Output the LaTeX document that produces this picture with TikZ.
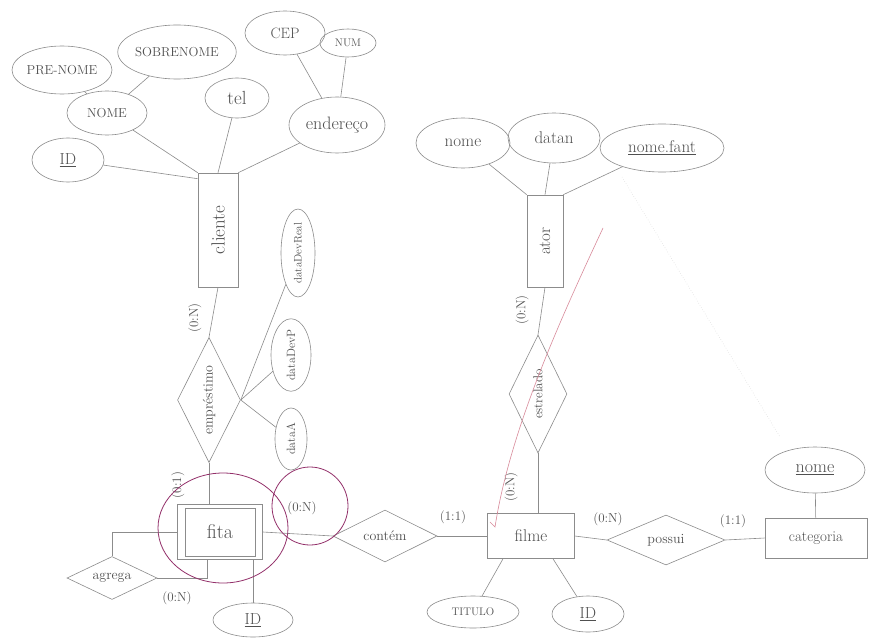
\documentclass[tikz,border=0pt]{standalone}
\usetikzlibrary{shapes.geometric}
\definecolor{pencil}{HTML}{8C8C8C}
\definecolor{ink}{HTML}{505050}
\definecolor{plum}{HTML}{93306A}
\definecolor{rosy}{HTML}{D88A9A}
\tikzset{
  link/.style={draw=pencil, line width=0.6pt},
  attr/.style={ellipse, draw=pencil, line width=0.6pt, inner sep=0pt, text=ink, font=\fontsize{13}{15}\selectfont},
  ent/.style={rectangle, draw=pencil, line width=0.6pt, inner sep=0pt, text=ink, font=\fontsize{17}{19}\selectfont},
  rel/.style={diamond, draw=pencil, line width=0.6pt, inner sep=0pt, aspect=2, text=ink, font=\fontsize{14}{16}\selectfont},
  vrel/.style={rel, aspect=0.5},
  card/.style={text=ink, inner sep=1pt, font=\fontsize{13}{15}\selectfont},
  ringmark/.style={draw=plum, line width=0.8pt},
}
\begin{document}
\begin{tikzpicture}[x=1pt, y=-1pt]
\useasboundingbox[fill=white] (0,0) rectangle (869,639);

% ---- cliente and its attributes
\node[attr, minimum width=100, minimum height=48] (pren) at (62,70) {PRE-NOME};
\node[attr, minimum width=116, minimum height=54] (sobr) at (177,52) {SOBRENOME};
\node[attr, minimum width=80, minimum height=44] (nome) at (107,113) {NOME};
\node[attr, minimum width=64, minimum height=40, font=\fontsize{19}{21}\selectfont] (tel) at (237,98) {tel};
\node[attr, minimum width=80, minimum height=44, font=\fontsize{15}{17}\selectfont] (cep) at (285,33) {CEP};
\node[attr, minimum width=56, minimum height=28, font=\fontsize{11}{13}\selectfont] (num) at (348,43) {NUM};
\node[attr, minimum width=96, minimum height=56, font=\fontsize{18}{20}\selectfont] (end) at (337,125) {endereço};
\node[attr, minimum width=72, minimum height=44, font=\fontsize{16}{18}\selectfont] (id1) at (68,160) {\underline{ID}};
\node[ent, minimum width=40, minimum height=114, font=\fontsize{19}{21}\selectfont] (cli) at (218,230) {\rotatebox{90}{cliente}};

\draw[link] (pren) -- (nome);
\draw[link] (sobr) -- (nome);
\draw[link] (nome) -- (cli.north west);
\draw[link] (tel) -- (cli.north);
\draw[link] (end) -- (cli.north east);
\draw[link] (cep) -- (end);
\draw[link] (num) -- (end);
\draw[link] (id1) -- ([yshift=-6pt]cli.north west);

% ---- emprestimo
\node[vrel, minimum width=63, minimum height=125] (emp) at (209,400) {\rotatebox{90}{empréstimo}};
\node[attr, minimum width=34, minimum height=88, font=\fontsize{11}{13}\selectfont] (ddr) at (298,253) {\rotatebox{90}{dataDevReal}};
\node[attr, minimum width=40, minimum height=70, font=\fontsize{12}{14}\selectfont] (ddp) at (291,355) {\rotatebox{90}{dataDevP}};
\node[attr, minimum width=32, minimum height=62, font=\fontsize{12}{14}\selectfont] (dta) at (291,439) {\rotatebox{90}{dataA}};
\draw[link] (cli.south) -- (emp.north);
\draw[link] (emp.east) -- (ddr);
\draw[link] (emp.east) -- (ddp);
\draw[link] (emp.east) -- (dta);
\node[card, rotate=90] (c1) at (195,318) {(0:N)};
\node[card, rotate=90] (c2) at (178,485) {(0:1)};

% ---- fita (weak entity)
\node[ent, minimum width=85, minimum height=55, font=\fontsize{20}{22}\selectfont] (fita) at (220,532) {fita};
\draw[link] ([shift={(8pt,4pt)}]fita.south west) rectangle ([shift={(-8pt,-4pt)}]fita.north east);
\draw[link] (emp.south) -- (emp.south |- fita.north);
\node[rel, minimum width=90, minimum height=43] (agr) at (112,578) {agrega};
\draw[link] (fita.west) -| (agr.north);
\draw[link] (agr.east) -| ([xshift=-13pt]fita.south);
\node[card] (c3) at (177,598) {(0:N)};
\node[attr, minimum width=80, minimum height=34, font=\fontsize{16}{18}\selectfont] (id2) at (253,620) {\underline{ID}};
\draw[link] (id2.north |- fita.south) -- (id2.north);

% ---- contem
\node[rel, minimum width=104, minimum height=52] (cont) at (385,536) {contém};
\draw[link] (fita.east) -- (cont.west);
\node[card] (c4) at (302,508) {(0:N)};
\node[card] (c5) at (453,517) {(1:1)};

% ---- filme
\node[ent, minimum width=87, minimum height=45] (filme) at (531,536) {filme};
\draw[link] (cont.east) -- (filme.west);
\node[attr, minimum width=92, minimum height=32, font=\fontsize{11}{13}\selectfont] (tit) at (473,612) {TITULO};
\node[attr, minimum width=72, minimum height=36, font=\fontsize{16}{18}\selectfont] (id3) at (588,614) {\underline{ID}};
\draw[link] ([xshift=-28pt]filme.south) -- (tit);
\draw[link] ([xshift=22pt]filme.south) -- (id3);

% ---- possui / categoria
\node[rel, minimum width=118, minimum height=50] (poss) at (666,540) {possui};
\node[ent, minimum width=102, minimum height=40, font=\fontsize{15}{17}\selectfont] (cat) at (816,538) {categoria};
\node[attr, minimum width=100, minimum height=46, font=\fontsize{18}{20}\selectfont] (nomec) at (815,470) {\underline{nome}};
\draw[link] (filme.east) -- (poss.west);
\draw[link] (poss.east) -- (cat.west);
\draw[link] (nomec) -- (cat);
\node[card] (c6) at (608,519) {(0:N)};
\node[card] (c7) at (733,521) {(1:1)};

% ---- ator / estrelado
\node[ent, minimum width=36, minimum height=92] (ator) at (545,241) {\rotatebox{90}{ator}};
\node[attr, minimum width=94, minimum height=50, font=\fontsize{17}{19}\selectfont] (nomea) at (463,143) {nome};
\node[attr, minimum width=92, minimum height=50, font=\fontsize{17}{19}\selectfont] (datan) at (554,138) {datan};
\node[attr, minimum width=124, minimum height=48, font=\fontsize{17}{19}\selectfont] (nfant) at (662,148) {\underline{nome.fant}};
\draw[link] (nomea) -- (ator.north west);
\draw[link] (datan) -- (ator.north);
\draw[link] (nfant) -- (ator.north east);
\node[vrel, minimum width=58, minimum height=118, font=\fontsize{13}{15}\selectfont] (estr) at (538,394) {\rotatebox{90}{estrelado}};
\draw[link] (ator.south) -- (estr.north);
\draw[link] (estr.south) -- (estr.south |- filme.north);
\node[card, rotate=90] (c8) at (522,310) {(0:N)};
\node[card, rotate=90] (c9) at (511,487) {(0:N)};

% ---- annotations
\draw[ringmark] (223,528) ellipse [x radius=65pt, y radius=55pt];
\draw[ringmark] (310,506) ellipse [x radius=38pt, y radius=39pt];
\draw[draw=rosy, line width=0.6pt] (603,228) .. controls (560,320) and (510,430) .. (495,527) -- (490,522);
\draw[draw=pencil!35, line width=0.5pt, dotted] (622,177) -- (780,437);
\end{tikzpicture}
\end{document}
